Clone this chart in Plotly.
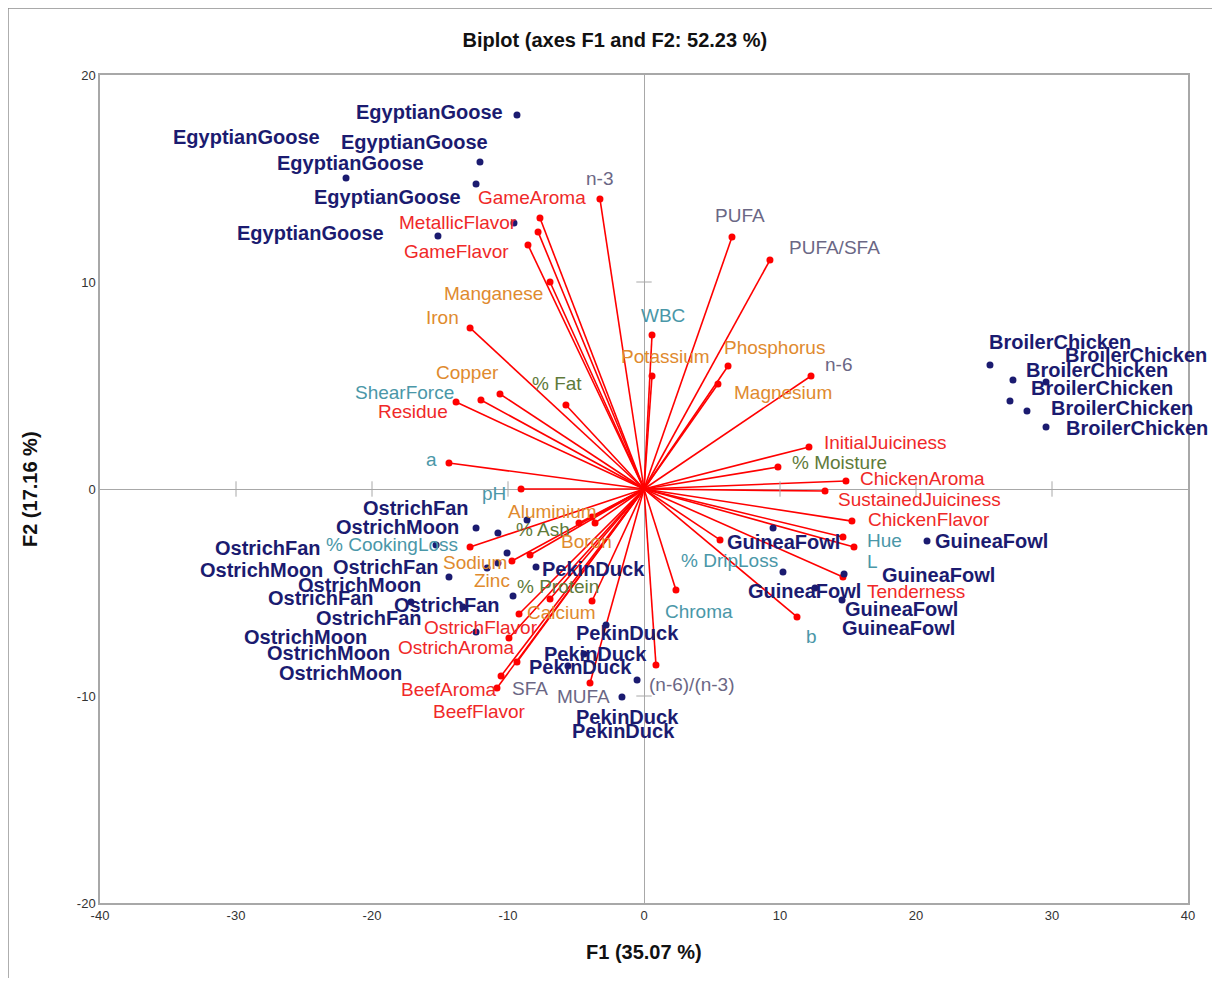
import plotly.graph_objects as go

# ---------------- data ----------------
var_names = ["n-3", "GameAroma", "MetallicFlavor", "GameFlavor", "Manganese", "Iron",
             "PUFA", "PUFA/SFA", "WBC", "Potassium", "Phosphorus", "Magnesium", "n-6",
             "% Fat", "Copper", "ShearForce", "Residue", "a", "pH",
             "InitialJuiciness", "% Moisture", "ChickenAroma", "SustainedJuiciness",
             "ChickenFlavor", "Hue", "L", "Tenderness", "% DripLoss", "Chroma", "b",
             "(n-6)/(n-3)", "MUFA", "SFA", "BeefAroma", "BeefFlavor", "OstrichAroma",
             "OstrichFlavor", "Calcium", "% Protein", "Zinc", "Sodium", "% CookingLoss",
             "Aluminium", "% Ash", "Boron"]
var_x = [-3.24, -7.65, -7.79, -8.53, -6.91, -12.79,
         6.47, 9.26, 0.59, 0.59, 6.18, 5.44, 12.28,
         -5.74, -10.59, -13.82, -11.99, -14.34, -9.04,
         12.13, 9.85, 14.85, 13.31,
         15.29, 14.63, 15.44, 14.63, 5.59, 2.35, 11.25,
         0.88, -3.97, -9.34, -10.51, -10.81, -9.93,
         -9.19, -6.91, -3.82, -8.38, -9.71, -12.79,
         -3.82, -4.78, -3.60]
var_y = [14.01, 13.09, 12.42, 11.79, 10.00, 7.78,
         12.17, 11.06, 7.44, 5.46, 5.94, 5.07, 5.46,
         4.06, 4.59, 4.20, 4.30, 1.26, 0.00,
         2.03, 1.06, 0.39, -0.10,
         -1.55, -2.32, -2.80, -4.25, -2.46, -4.88, -6.18,
         -8.50, -9.37, -8.36, -9.03, -9.61, -7.20,
         -6.04, -5.31, -5.41, -3.19, -3.48, -2.80,
         -1.35, -1.64, -1.64]
var_group = ["fatty", "sensory", "sensory", "sensory", "mineral", "mineral",
             "fatty", "fatty", "physical", "mineral", "mineral", "mineral", "fatty",
             "proximate", "mineral", "physical", "sensory", "physical", "physical",
             "sensory", "proximate", "sensory", "sensory",
             "sensory", "physical", "physical", "sensory", "physical", "physical", "physical",
             "fatty", "fatty", "fatty", "sensory", "sensory", "sensory",
             "sensory", "mineral", "proximate", "mineral", "mineral", "physical",
             "mineral", "proximate", "mineral"]

obs_names = (["EgyptianGoose"] * 6 + ["BroilerChicken"] * 6 + ["GuineaFowl"] * 6 +
             ["PekinDuck"] * 6 +
             ["OstrichFan", "OstrichMoon", "OstrichFan", "OstrichFan", "OstrichMoon", "OstrichMoon",
              "OstrichFan", "OstrichFan", "OstrichFan", "OstrichMoon", "OstrichMoon", "OstrichMoon"])
obs_x = [-9.34, -12.06, -21.91, -12.35, -9.56, -15.15,
         25.44, 27.13, 29.56, 26.91, 28.16, 29.56,
         9.49, 20.81, 10.22, 14.71, 12.57, 14.56,
         -7.94, -2.79, -4.41, -5.59, -0.51, -1.62,
         -8.60, -12.35, -10.74, -15.29, -10.07, -10.74,
         -11.54, -14.34, -9.63, -13.31, -17.13, -12.35]
obs_y = [18.07, 15.80, 15.02, 14.73, 12.85, 12.22,
         5.99, 5.27, 5.17, 4.25, 3.77, 3.00,
         -1.88, -2.51, -4.01, -4.11, -4.78, -5.36,
         -3.77, -6.57, -7.97, -8.55, -9.23, -10.05,
         -1.50, -1.88, -2.13, -2.71, -3.09, -3.57,
         -3.82, -4.25, -5.17, -5.70, -5.46, -6.91]

x_ticks = [-40, -30, -20, -10, 0, 10, 20, 30, 40]
y_ticks = [-20, -10, 0, 10, 20]

title_text = "Biplot (axes F1 and F2: 52.23 %)"
x_title = "F1 (35.07 %)"
y_title = "F2 (17.16 %)"

# ---------------- label placement (pixel offsets from the point) ----------------
var_label_offsets = [(0, -20), (-8, -21), (-80, -9), (-71, 7), (-57, 11), (-28, -10),
                     (8, -22), (65, -13), (11, -19), (13, -19), (46, -19), (65, 8), (27, -11),
                     (-9, -21), (-32, -21), (-52, -10), (-68, 12), (-17, -3), (-27, 4),
                     (77, -4), (62, -5), (77, -2), (94, 8),
                     (77, -2), (42, 3), (19, 15), (73, 15), (9, 21), (23, 21), (14, 20),
                     (36, 20), (-7, 14), (13, 26), (-53, 14), (-17, 24), (-52, 9),
                     (-38, 13), (11, 14), (-34, -14), (-38, 25), (-37, 1), (-78, -2),
                     (-40, -5), (-36, 7), (-9, 19)]
obs_label_offsets = [(-87, -3), (-65, -20), (-100, -41), (-126, -21), (-126, -26), (-127, -3),
                     (70, -23), (84, -10), (90, -27), (92, -13), (95, -3), (91, 1),
                     (10, 14), (64, 0), (22, 19), (94, 1), (87, 21), (56, 28),
                     (57, 2), (21, 8), (11, 0), (13, 1), (-10, 37), (2, 34),
                     (-111, -12), (-79, -1), (-230, 15), (-50, 22), (-246, 17), (-138, 22),
                     (-166, 30), (-2, 28), (-144, 22), (-157, 30), (-83, 51), (-136, 41)]

# ---------------- styles ----------------
FONT = "Arial, Liberation Sans, sans-serif"
NAVY = "#1b1b70"
RED = "#ff0000"
group_colors = {"sensory": "#f02828", "mineral": "#e08a2e", "proximate": "#5f7a3a",
                "physical": "#4a97a8", "fatty": "#6b6785"}
GRID = "#a8a8a8"

fig = go.Figure()

# vector lines from the origin
lx, ly = [], []
for vx, vy in zip(var_x, var_y):
    lx += [0, vx, None]
    ly += [0, vy, None]
fig.add_trace(go.Scatter(x=lx, y=ly, mode="lines", line=dict(color=RED, width=1.6),
                         hoverinfo="skip", showlegend=False))
fig.add_trace(go.Scatter(x=var_x, y=var_y, mode="markers", text=var_names,
                         marker=dict(color=RED, size=7), showlegend=False))

# observations
fig.add_trace(go.Scatter(x=obs_x, y=obs_y, mode="markers", text=obs_names,
                         marker=dict(color=NAVY, size=7), showlegend=False))

# cross ticks on the zero lines
xt = [t for t in x_ticks if t not in (0, x_ticks[0], x_ticks[-1])]
yt = [t for t in y_ticks if t not in (0, y_ticks[0], y_ticks[-1])]
fig.add_trace(go.Scatter(x=xt, y=[0] * len(xt), mode="markers", hoverinfo="skip",
                         marker=dict(symbol="line-ns", size=11, line=dict(color=GRID, width=1)),
                         showlegend=False))
fig.add_trace(go.Scatter(x=[0] * len(yt), y=yt, mode="markers", hoverinfo="skip",
                         marker=dict(symbol="line-ew", size=11, line=dict(color=GRID, width=1)),
                         showlegend=False))

annotations = []
for name, vx, vy, g, (dx, dy) in zip(var_names, var_x, var_y, var_group, var_label_offsets):
    annotations.append(dict(x=vx, y=vy, text=name, showarrow=False, xshift=dx, yshift=-dy,
                            xanchor="center", yanchor="middle",
                            font=dict(family=FONT, size=19, color=group_colors[g])))
for name, ox, oy, (dx, dy) in zip(obs_names, obs_x, obs_y, obs_label_offsets):
    annotations.append(dict(x=ox, y=oy, text="<b>" + name + "</b>", showarrow=False,
                            xshift=dx, yshift=-dy, xanchor="center", yanchor="middle",
                            font=dict(family=FONT, size=20, color=NAVY)))
# axis titles
annotations.append(dict(x=0.5, y=-0.0592, xref="paper", yref="paper", text="<b>" + x_title + "</b>",
                        showarrow=False, xanchor="center", yanchor="middle",
                        font=dict(family=FONT, size=20, color="#111111")))
annotations.append(dict(x=-0.0643, y=0.5, xref="paper", yref="paper", text="<b>" + y_title + "</b>",
                        showarrow=False, xanchor="center", yanchor="middle", textangle=-90,
                        font=dict(family=FONT, size=20, color="#111111")))

fig.update_layout(
    width=1204, height=970,
    margin=dict(l=92, r=24, t=67, b=75),
    paper_bgcolor="white", plot_bgcolor="white",
    title=dict(text="<b>" + title_text + "</b>", x=0.504, xanchor="center",
               y=1 - 32 / 970, yanchor="middle", yref="container",
               font=dict(family=FONT, size=20, color="#111111")),
    annotations=annotations,
    shapes=[
        dict(type="line", xref="paper", yref="paper", x0=-0.0846, x1=-0.0846, y0=-0.2, y1=1.081,
             line=dict(color="#8c8c8c", width=1.5)),
        dict(type="line", xref="paper", yref="paper", x0=-0.0846, x1=1.2, y0=1.081, y1=1.081,
             line=dict(color="#8c8c8c", width=1.5)),
    ],
)
fig.update_xaxes(range=[x_ticks[0], x_ticks[-1]], tickvals=x_ticks,
                 ticktext=[str(t) for t in x_ticks], showgrid=False,
                 zeroline=True, zerolinecolor=GRID, zerolinewidth=1,
                 showline=True, linecolor=GRID, linewidth=1.5, mirror=True,
                 ticks="", tickfont=dict(family=FONT, size=13, color="#333333"))
fig.update_yaxes(range=[y_ticks[0], y_ticks[-1]], tickvals=y_ticks,
                 ticktext=[str(t) for t in y_ticks], showgrid=False,
                 zeroline=True, zerolinecolor=GRID, zerolinewidth=1,
                 showline=True, linecolor=GRID, linewidth=1.5, mirror=True,
                 ticks="", tickfont=dict(family=FONT, size=13, color="#333333"))

fig.write_html("out.html")
